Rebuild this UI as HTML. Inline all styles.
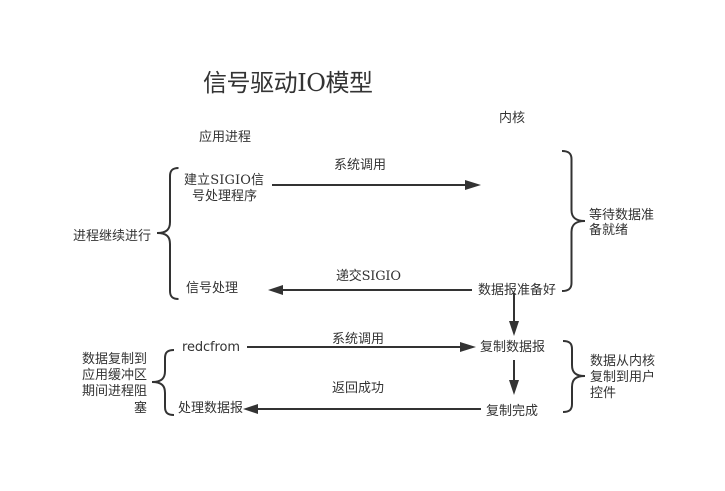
<!DOCTYPE html>
<html lang="zh">
<head>
<meta charset="utf-8">
<title>信号驱动IO模型</title>
<style>
html,body{margin:0;padding:0;background:#fff;width:725px;height:491px;overflow:hidden}
svg{display:block}
text{font-family:"Liberation Sans","WenQuanYi Zen Hei","Noto Sans CJK SC",sans-serif;font-size:13px;fill:#333}
tspan{font-family:"DejaVu Serif",serif}
.l{stroke:#333;stroke-width:2;fill:none}
.h{fill:#333;stroke:none}
</style>
</head>
<body>
<svg width="725" height="491" viewBox="0 0 725 491" xmlns="http://www.w3.org/2000/svg">
<text x="203" y="91" textLength="170" style="font-size:24px">信号驱动<tspan>IO</tspan>模型</text>
<text x="199" y="141">应用进程</text>
<text x="499" y="122">内核</text>

<text x="184" y="184" textLength="80">建立<tspan>SIGIO</tspan>信</text>
<text x="192" y="200">号处理程序</text>
<text x="334" y="169">系统调用</text>
<text x="73" y="240">进程继续进行</text>
<text x="186" y="292">信号处理</text>
<text x="336" y="280" textLength="65">递交<tspan>SIGIO</tspan></text>
<text x="478" y="294">数据报准备好</text>
<text x="589" y="219">等待数据准</text>
<text x="589" y="234">备就绪</text>

<text x="182" y="351" textLength="58" style="font-family:'DejaVu Sans',sans-serif">redcfrom</text>
<text x="332" y="343">系统调用</text>
<text x="480" y="351">复制数据报</text>
<text x="332" y="392">返回成功</text>
<text x="178" y="412">处理数据报</text>
<text x="486" y="415">复制完成</text>

<text x="147" y="363" text-anchor="end">数据复制到</text>
<text x="147" y="379" text-anchor="end">应用缓冲区</text>
<text x="147" y="395" text-anchor="end">期间进程阻</text>
<text x="147" y="412" text-anchor="end">塞</text>

<text x="590" y="365">数据从内核</text>
<text x="590" y="381">复制到用户</text>
<text x="590" y="397">控件</text>

<!-- arrows -->
<path class="l" d="M272 185H467"/>
<path class="h" d="M481 185L465 180V190Z"/>
<path class="l" d="M472 290H281"/>
<path class="h" d="M268 290L283 285V295Z"/>
<path class="l" d="M514 293V324"/>
<path class="h" d="M514 336L509 321H519Z"/>
<path class="l" d="M247 347H462"/>
<path class="h" d="M476 347L460 342V352Z"/>
<path class="l" d="M514 360V382"/>
<path class="h" d="M514 395L509 380H519Z"/>
<path class="l" d="M481 409H256"/>
<path class="h" d="M243 409L258 404V414Z"/>

<!-- braces -->
<path class="l" d="M178.500 168C173 168 170 170 170 176V222C170 229 167 233 157 233C167 233 170 237 170 244V291C170 297 173 299 178.500 299"/>
<path class="l" d="M562 151C568 151 571.500 153 571.500 159V210C571.500 217 575 221 585 221C575 221 571.500 225 571.500 232V283C571.500 289 568 291 562 291"/>
<path class="l" d="M174 350C168 350 165 352 165 358V371C165 378 162 382 152 382C162 382 165 386 165 393V407C165 413 168 415 174 415"/>
<path class="l" d="M563 341C569 341 572 343 572 349V365C572 372 575 376 585 376C575 376 572 380 572 387V404C572 410 569 412 563 412"/>
</svg>
</body>
</html>
